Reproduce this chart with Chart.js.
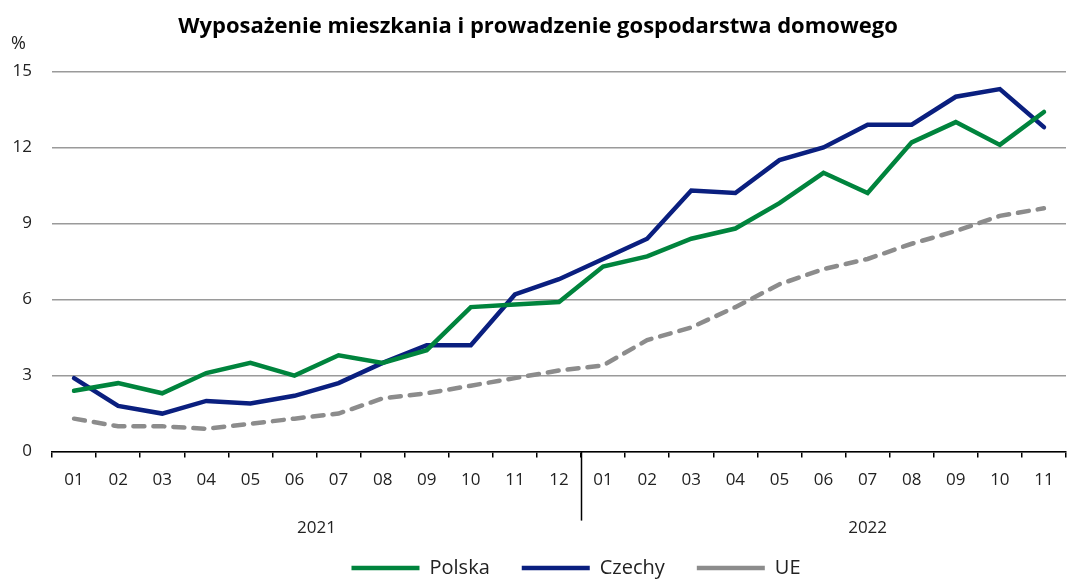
<!DOCTYPE html>
<html>
<head>
<meta charset="utf-8">
<script src="https://cdn.jsdelivr.net/npm/chart.js@4.4.1/dist/chart.umd.min.js"></script>
<style>
  html, body { margin: 0; padding: 0; background: #fff; }
  #wrap { width: 1068px; height: 581px; position: relative; }
</style>
</head>
<body>
<div id="wrap"><canvas id="chart"></canvas></div>
<script>
const months = ['01','02','03','04','05','06','07','08','09','10','11','12',
                '01','02','03','04','05','06','07','08','09','10','11'];
const years = ['2021', '2022'];
const polska = [2.4, 2.7, 2.3, 3.1, 3.5, 3.0, 3.8, 3.5, 4.0, 5.7, 5.8, 5.9,
                7.3, 7.7, 8.4, 8.8, 9.8, 11.0, 10.2, 12.2, 13.0, 12.1, 13.4];
const czechy = [2.9, 1.8, 1.5, 2.0, 1.9, 2.2, 2.7, 3.5, 4.2, 4.2, 6.2, 6.8,
                7.6, 8.4, 10.3, 10.2, 11.5, 12.0, 12.9, 12.9, 14.0, 14.3, 12.8];
const ue = [1.3, 1.0, 1.0, 0.9, 1.1, 1.3, 1.5, 2.1, 2.3, 2.6, 2.9, 3.2,
            3.4, 4.4, 4.9, 5.7, 6.6, 7.2, 7.6, 8.2, 8.7, 9.3, 9.6];

const FONT = '"Open Sans", Roboto, sans-serif';
const TEXT = '#222';

// year labels under the months, divider between years, % unit
const yearAxis = {
    id: 'yearAxis',
    afterLayout(chart) {
        // legend sits a bit right of centre in the original
        chart.legend.left += 38;
        chart.legend.right += 38;
    },
    afterDraw(chart) {
        const ctx = chart.ctx;
        const x = chart.scales.x;
        const area = chart.chartArea;
        ctx.save();
        const divX = Math.round(x.getPixelForValue(11.5)) + 0.5;
        ctx.strokeStyle = '#000';
        ctx.lineWidth = 1.5;
        ctx.beginPath();
        ctx.moveTo(divX, area.bottom);
        ctx.lineTo(divX, area.bottom + 69);
        ctx.stroke();

        ctx.fillStyle = TEXT;
        ctx.font = '17px ' + FONT;
        ctx.textAlign = 'center';
        ctx.textBaseline = 'middle';
        ctx.fillText(years[0], x.getPixelForValue(5.5), area.bottom + 77);
        ctx.fillText(years[1], x.getPixelForValue(18), area.bottom + 77);

        ctx.textAlign = 'left';
        ctx.font = '18px ' + FONT;
        ctx.fillText('%', 11, area.top - 28);
        ctx.restore();
    }
};

new Chart(document.getElementById('chart'), {
    type: 'line',
    data: {
        labels: months,
        datasets: [
            {
                label: 'Polska',
                data: polska,
                borderColor: '#00843d',
                backgroundColor: '#00843d',
                borderWidth: 4.5,
                borderCapStyle: 'round',
                pointRadius: 0,
                pointStyle: 'line',
                tension: 0
            },
            {
                label: 'Czechy',
                data: czechy,
                borderColor: '#0a1f7f',
                backgroundColor: '#0a1f7f',
                borderWidth: 4.5,
                borderCapStyle: 'round',
                pointRadius: 0,
                pointStyle: 'line',
                tension: 0
            },
            {
                label: 'UE',
                data: ue,
                borderColor: '#8c8c8c',
                backgroundColor: '#8c8c8c',
                borderWidth: 4.5,
                borderDash: [11, 9],
                borderCapStyle: 'round',
                pointRadius: 0,
                pointStyle: 'line',
                tension: 0
            }
        ]
    },
    options: {
        responsive: true,
        maintainAspectRatio: false,
        animation: false,
        layout: { padding: { left: 10, right: 2, top: 0, bottom: -7 } },
        plugins: {
            title: {
                display: true,
                text: 'Wyposażenie mieszkania i prowadzenie gospodarstwa domowego',
                color: '#000',
                font: { family: FONT, size: 22, weight: 'bold' },
                padding: { top: 14, bottom: 31 }
            },
            legend: {
                position: 'bottom',
                labels: {
                    color: TEXT,
                    font: { family: FONT, size: 20 },
                    usePointStyle: true,
                    pointStyleWidth: 68,
                    padding: 32
                }
            },
            tooltip: { enabled: false }
        },
        scales: {
            x: {
                offset: true,
                grid: {
                    offset: true,
                    drawOnChartArea: false,
                    drawTicks: true,
                    tickLength: 6,
                    color: '#000',
                    lineWidth: 1.5
                },
                border: { display: true, color: '#000', width: 1.5 },
                ticks: {
                    color: TEXT,
                    font: { family: FONT, size: 17 },
                    padding: 12,
                    maxRotation: 0,
                    autoSkip: false
                },
                afterFit(scale) {
                    scale.height += 24;
                }
            },
            y: {
                min: 0,
                max: 15,
                ticks: {
                    stepSize: 3,
                    color: TEXT,
                    font: { family: FONT, size: 17 },
                    padding: 20
                },
                grid: {
                    color: '#9a9a9a',
                    lineWidth: 1.5,
                    drawTicks: false
                },
                border: { display: false },
                afterFit(scale) {
                    scale.width = 42;
                }
            }
        }
    },
    plugins: [yearAxis]
});
</script>
</body>
</html>
